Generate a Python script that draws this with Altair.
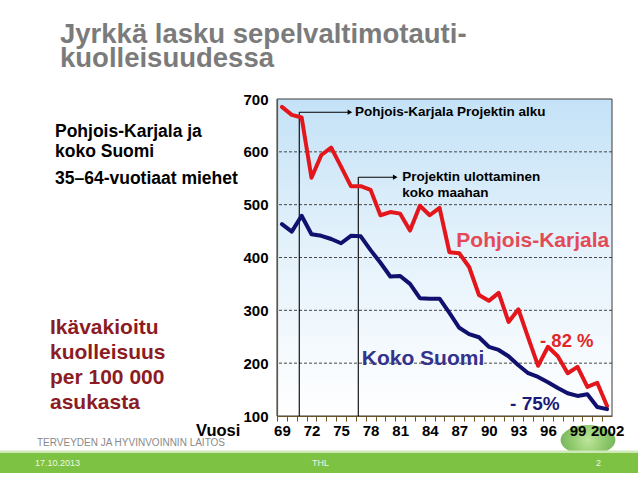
import altair as alt
import pandas as pd

# ---------------- data ----------------
years = list(range(1969, 2003))
pohjois_karjala = [685, 670, 665, 551, 594, 608, 572, 535, 535, 528, 480, 486, 483, 451,
                   498, 480, 494, 410, 408, 382, 329, 318, 333, 278, 302, 248, 195, 231,
                   213, 181, 193, 155, 163, 119]
koko_suomi = [463, 449, 479, 444, 441, 435, 427, 441, 440, 414, 390, 364, 365, 350,
              323, 322, 322, 295, 267, 255, 249, 231, 225, 213, 196, 181, 174, 164,
              153, 143, 138, 141, 117, 113]
series_names = ["Pohjois-Karjala", "Koko Suomi"]
y_ticks = [100, 200, 300, 400, 500, 600, 700]
grid_levels = [200, 300, 400, 500, 600]

event_years = [1970.76, 1976.75]      # project start, extension to whole country
event_levels = [675, 552]
arrow_end_years = [1975.9, 1980.5]

# ---------------- layout ----------------
FONT = "Liberation Sans"
PAD_L, PAD_T = 277, 99
W, H = 335, 317
TOTAL_W, TOTAL_H = 638, 479
RED = "#e3161c"
NAVY = "#10106e"
BROWN = "#6a5624"

x_scale = alt.Scale(domain=[1968.5, 2002.5], nice=False, zero=False)
y_scale = alt.Scale(domain=[100, 700], nice=False, zero=False)
one = pd.DataFrame({"k": [0]})

X_AX = alt.Axis(values=years, tickOffset=-W / 34 / 2, labelOffset=W / 34 / 2,
                labelExpr="(datum.value - 1969) % 3 == 0 ? (datum.value == 2002 ? '2002' : toString(datum.value - 1900)) : ''",
                labelFont=FONT, labelFontSize=15, labelFontWeight="bold",
                labelColor="#000", labelPadding=2, labelFlush=False,
                labelOverlap=False, labelBound=False,
                tickSize=5, tickColor=BROWN, tickWidth=1,
                domainColor=BROWN, domainWidth=1.2, grid=False,
                title=None, zindex=1)
Y_AX = alt.Axis(values=y_ticks, ticks=False, labelPadding=9,
                labelFont=FONT, labelFontSize=15, labelFontWeight="bold",
                labelColor="#000", domainColor=BROWN, domainWidth=1.2,
                grid=False, title=None, zindex=1, labelOverlap=False,
                labelFlush=False)

df = pd.DataFrame({
    "year": years * 2,
    "value": pohjois_karjala + koko_suomi,
    "series": [series_names[0]] * len(years) + [series_names[1]] * len(years),
})

lines = alt.Chart(df).mark_line(strokeWidth=4, strokeJoin="round", strokeCap="round").encode(
    x=alt.X("year:Q", scale=x_scale, axis=X_AX),
    y=alt.Y("value:Q", scale=y_scale, axis=Y_AX),
    color=alt.Color("series:N", scale=alt.Scale(domain=series_names, range=[RED, NAVY]),
                    legend=None),
    detail="series:N",
)

# background of the plot area (gradient)
bg = alt.Chart(one).mark_rect(
    fill=alt.Gradient(
        gradient="linear", x1=0, x2=0, y1=0, y2=1,
        stops=[alt.GradientStop(offset=0, color="#c4e2f7"),
               alt.GradientStop(offset=0.45, color="#e3f1fb"),
               alt.GradientStop(offset=1, color="#ffffff")]),
    stroke="#3a3a3a", strokeWidth=1,
).encode(x=alt.value(0), x2=alt.value(W), y=alt.value(0), y2=alt.value(H))

grid = alt.Chart(pd.DataFrame({"g": grid_levels})).mark_rule(
    color="#333333", strokeDash=[3, 2], strokeWidth=0.9
).encode(y=alt.Y("g:Q", scale=y_scale, axis=Y_AX))

# event markers
ev = pd.DataFrame({"x": event_years, "top": event_levels, "xe": arrow_end_years,
                   "bottom": [100, 100]})
vlines = alt.Chart(ev).mark_rule(color="#000", strokeWidth=1.1).encode(
    x=alt.X("x:Q", scale=x_scale, axis=X_AX),
    y=alt.Y("top:Q", scale=y_scale, axis=Y_AX), y2="bottom:Q")
hlines = alt.Chart(ev).mark_rule(color="#000", strokeWidth=1.1).encode(
    x=alt.X("x:Q", scale=x_scale, axis=X_AX), x2="xe:Q",
    y=alt.Y("top:Q", scale=y_scale, axis=Y_AX))
heads = alt.Chart(ev).mark_point(shape="triangle-right", filled=True, color="#000",
                                 size=28, opacity=1).encode(
    x=alt.X("xe:Q", scale=x_scale, axis=X_AX),
    y=alt.Y("top:Q", scale=y_scale, axis=Y_AX))

# decorative green ball under the last labels
ball = alt.Chart(one).mark_point(
    shape="M -1 0 A 1 0.55 0 1 0 1 0 A 1 0.55 0 1 0 -1 0 Z",
    filled=True, size=3000, opacity=0.75,
    fill=alt.Gradient(gradient="radial",
                      stops=[alt.GradientStop(offset=0, color="#a8de7a"),
                             alt.GradientStop(offset=0.6, color="#6cb83c"),
                             alt.GradientStop(offset=1, color="#4a9e28")]),
    strokeWidth=0,
).encode(x=alt.value(588 - PAD_L), y=alt.value(440 - PAD_T))


def dtext(text, x, y, size, color="#000", weight="bold", baseline="middle"):
    """Text placed in data coordinates."""
    d = pd.DataFrame({"x": [x], "y": [y], "t": [text]})
    return alt.Chart(d).mark_text(font=FONT, fontSize=size, fontWeight=weight, color=color,
                                  align="left", baseline=baseline).encode(
        x=alt.X("x:Q", scale=x_scale, axis=X_AX),
        y=alt.Y("y:Q", scale=y_scale, axis=Y_AX), text="t:N")


def ptext(text, px, py, size, color="#000", weight="bold", align="left", baseline="alphabetic"):
    """Text placed in page pixels (outside the plot area)."""
    return alt.Chart(one).mark_text(text=text, font=FONT, fontSize=size, fontWeight=weight,
                                    color=color, align=align, baseline=baseline).encode(
        x=alt.value(px - PAD_L), y=alt.value(py - PAD_T))


annotations = [
    dtext("Pohjois-Karjala Projektin alku", 1976.42, 675, 13.5),
    dtext("Projektin ulottaminen", 1981.2, 552, 13.5),
    dtext("koko maahan", 1981.2, 522, 13.5),
    dtext("Pohjois-Karjala", 1986.7, 420, 21, color="#e44a55", baseline="alphabetic"),
    dtext("Koko Suomi", 1977.1, 197, 21, color="#33338e", baseline="alphabetic"),
    dtext("- 82 %", 1995.2, 231, 18.5, color="#e0282a", baseline="alphabetic"),
    dtext("- 75%", 1992.15, 111, 19, color="#1a1a78", baseline="alphabetic"),
]

page_texts = [
    ptext("Jyrkkä lasku sepelvaltimotauti-", 60, 43, 27.5, color="#7b7b7b"),
    ptext("kuolleisuudessa", 60, 67, 27.5, color="#7b7b7b"),
    ptext("Pohjois-Karjala ja", 55, 137, 17.5),
    ptext("koko Suomi", 55, 157, 17.5),
    ptext("35–64-vuotiaat miehet", 55, 184, 17.5),
    ptext("Ikävakioitu", 50, 334, 21, color="#8c1c24"),
    ptext("kuolleisuus", 50, 359, 21, color="#8c1c24"),
    ptext("per 100 000", 50, 384, 21, color="#8c1c24"),
    ptext("asukasta", 50, 409, 21, color="#8c1c24"),
    ptext("Vuosi", 196, 436, 16.5),
    ptext("TERVEYDEN JA HYVINVOINNIN LAITOS", 37, 446, 10, color="#8a8a8a", weight="normal"),
]

# footer band
band_line = alt.Chart(one).mark_rect(color="#cfe9b6").encode(
    x=alt.value(-PAD_L), x2=alt.value(TOTAL_W - PAD_L),
    y=alt.value(450.5 - PAD_T), y2=alt.value(453 - PAD_T))
band = alt.Chart(one).mark_rect(color="#7dc243").encode(
    x=alt.value(-PAD_L), x2=alt.value(TOTAL_W - PAD_L),
    y=alt.value(453 - PAD_T), y2=alt.value(473 - PAD_T))
footer_texts = [
    ptext("17.10.2013", 35, 463, 9, color="#eef7e4", weight="normal", baseline="middle"),
    ptext("THL", 312, 463, 9, color="#eef7e4", weight="normal", baseline="middle"),
    ptext("2", 596, 463, 9, color="#eef7e4", weight="normal", baseline="middle"),
]

chart = alt.layer(
    bg, grid, ball, vlines, hlines, heads, lines, *annotations, *page_texts,
    band_line, band, *footer_texts,
).properties(
    width=W, height=H,
    autosize=alt.AutoSizeParams(type="none"),
    padding={"left": PAD_L, "top": PAD_T, "right": TOTAL_W - PAD_L - W,
             "bottom": TOTAL_H - PAD_T - H},
    background="#ffffff",
).configure_view(stroke=None)

chart.save("out.html", embed_options={"renderer": "svg", "actions": False})
